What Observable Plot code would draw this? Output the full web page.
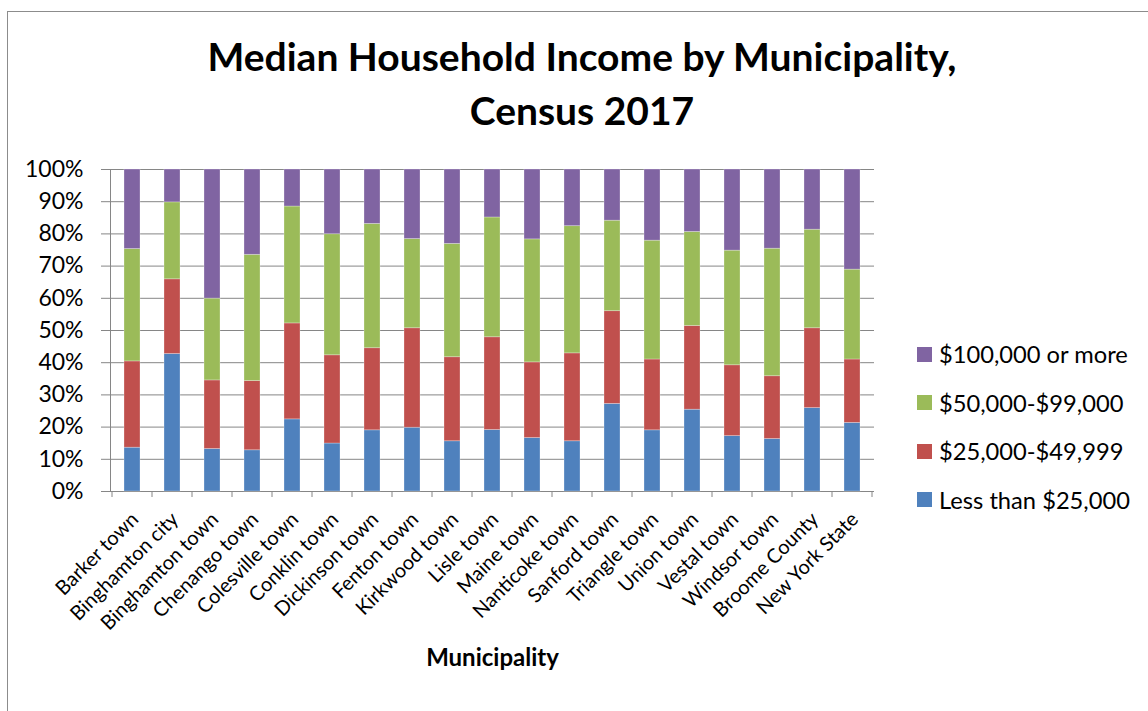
<!DOCTYPE html>
<html>
<head>
<meta charset="utf-8">
<script src="https://cdn.jsdelivr.net/npm/d3@7"></script>
<script src="https://cdn.jsdelivr.net/npm/@observablehq/plot@0.6"></script>
<style>
  body { margin: 0; background: #fff; font-family: Lato, "Open Sans", sans-serif; }
  #wrap { position: relative; width: 1148px; height: 711px; overflow: hidden; background: #fff; }
  #frame { position: absolute; left: 7px; top: 11px; width: 1300px; height: 900px;
           border-left: 1.5px solid #8c8c8c; border-top: 1.5px solid #8c8c8c; }
  #title { position: absolute; left: 0; top: 29px; width: 1164px; text-align: center;
           font-weight: bold; font-size: 39px; line-height: 54px; color: #000; margin: 0; }
  #chart { position: absolute; left: 0; top: 150px; }
  #legend { position: absolute; left: 917px; top: 330px; }
  .row { display: flex; align-items: center; height: 48.5px; font-size: 23.7px; color: #000; }
  .sw { width: 15px; height: 15px; margin-right: 7px; }
</style>
</head>
<body>
<div id="wrap">
  <div id="frame"></div>
  <h1 id="title">Median Household Income by Municipality,<br>Census 2017</h1>
  <div id="chart"></div>
  <div id="legend"></div>
</div>
<script>
const municipalities = ["Barker town","Binghamton city","Binghamton town","Chenango town","Colesville town","Conklin town","Dickinson town","Fenton town","Kirkwood town","Lisle town","Maine town","Nanticoke town","Sanford town","Triangle town","Union town","Vestal town","Windsor town","Broome County","New York State"];
const seriesNames = ["Less than $25,000","$25,000-$49,999","$50,000-$99,000","$100,000 or more"];
const seriesColors = ["#4F81BD","#C0504D","#9BBB59","#8064A2"];
const lessThan25k   = [13.6,42.7,13.2,12.8,22.4,14.9,19.0,19.8,15.6,19.1,16.6,15.6,27.2,19.0,25.4,17.2,16.3,25.9,21.3];
const from25to50k   = [26.8,23.2,21.3,21.5,29.8,27.4,25.5,30.9,26.1,28.8,23.5,27.3,28.8,22.0,26.0,22.0,19.5,24.8,19.7];
const from50to99k   = [34.9,23.9,25.4,39.2,36.3,37.6,38.6,27.7,35.2,37.2,38.2,39.5,28.1,36.9,29.2,35.6,39.6,30.6,27.9];
const over100k      = [24.7,10.2,40.1,26.5,11.5,20.1,16.9,21.6,23.1,14.9,21.7,17.6,15.9,22.1,19.4,25.2,24.6,18.7,31.1];
const yTicks = [0,10,20,30,40,50,60,70,80,90,100];
const xTitle = "Municipality";

const seriesValues = [lessThan25k, from25to50k, from50to99k, over100k];
const rows = [];
seriesNames.forEach((s, si) => {
  municipalities.forEach((m, mi) => rows.push({municipality: m, series: s, value: seriesValues[si][mi]}));
});

const gray = "#868686";
const plot = Plot.plot({
  width: 1148,
  height: 561,
  marginLeft: 110,
  marginRight: 274,
  marginTop: 19,
  marginBottom: 220,
  style: {fontFamily: "Lato, 'Open Sans', sans-serif", background: "transparent", overflow: "visible"},
  x: {type: "band", domain: municipalities, paddingInner: 0.6, paddingOuter: 0.3, axis: null},
  y: {domain: [0, 100], axis: null},
  color: {domain: seriesNames, range: seriesColors},
  marks: [
    Plot.gridY(yTicks, {stroke: gray, strokeOpacity: 1, strokeWidth: 1}),
    Plot.axisY(yTicks, {tickSize: 9, tickPadding: 18, fontSize: 23, stroke: gray, strokeOpacity: 1, fill: "#000",
      tickFormat: d => d + "%", label: null}),
    Plot.frame({anchor: "left", stroke: gray, strokeWidth: 1}),
    Plot.barY(rows, {x: "municipality", y: "value", fill: "series", order: seriesNames,
      stroke: "#fff", strokeOpacity: 0.35, strokeWidth: 0.8}),
    Plot.text(municipalities, {x: d => d, frameAnchor: "bottom", rotate: -45, textAnchor: "end",
      lineAnchor: "top", dx: -3, dy: 19, fontSize: 20, fill: "#000"}),
    Plot.text([xTitle], {frameAnchor: "bottom", dy: 174, fontSize: 24, fontWeight: "bold", fill: "#000"})
  ]
});
document.getElementById("chart").appendChild(plot);

// category boundary ticks on the x axis, from the plot's own scales
const xs = plot.scale("x"), ys = plot.scale("y");
const gap = (xs.step - xs.bandwidth) / 2;
const y0 = ys.apply(0);
const bounds = municipalities.map(m => xs.apply(m) - gap);
bounds.push(xs.apply(municipalities[municipalities.length - 1]) + xs.bandwidth + gap);
d3.select(plot).append("g")
  .selectAll("line").data(bounds).join("line")
  .attr("x1", d => d).attr("x2", d => d)
  .attr("y1", y0).attr("y2", y0 + 6)
  .attr("stroke", gray).attr("stroke-width", 1);

// legend (top to bottom: highest bracket first)
const legend = d3.select("#legend");
seriesNames.slice().reverse().forEach(s => {
  const r = legend.append("div").attr("class", "row");
  r.append("div").attr("class", "sw").style("background", seriesColors[seriesNames.indexOf(s)]);
  r.append("span").text(s);
});
</script>
</body>
</html>
